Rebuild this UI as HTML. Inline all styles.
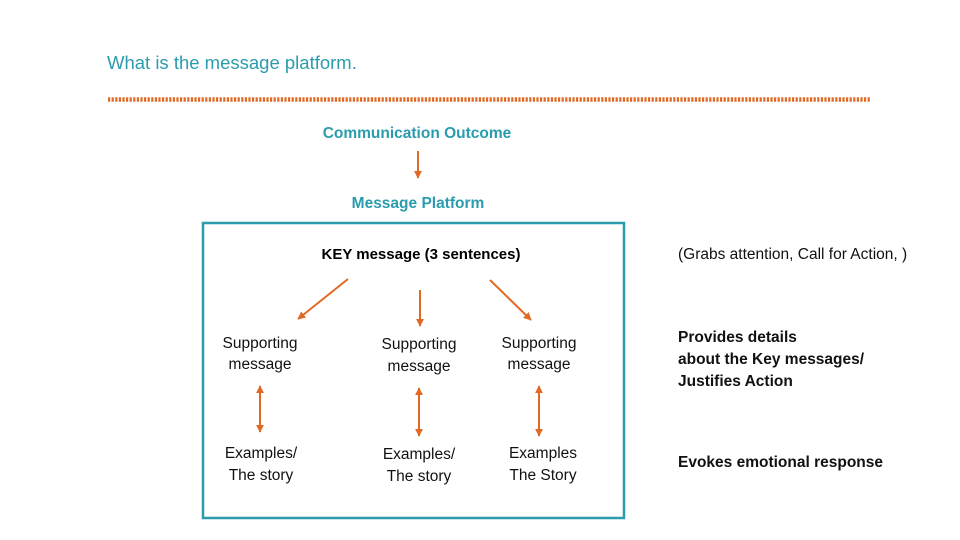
<!DOCTYPE html>
<html><head><meta charset="utf-8"><style>
html,body{margin:0;padding:0;background:#fff;}
svg{display:block;}
text{font-family:"Liberation Sans",sans-serif;}
</style></head><body>
<svg width="960" height="540" viewBox="0 0 960 540" xmlns="http://www.w3.org/2000/svg">
<defs>
<marker id="a" viewBox="0 0 10 10" refX="9" refY="5" markerWidth="4" markerHeight="4" orient="auto-start-reverse"><path d="M0,0L10,5L0,10z" fill="#e06a25"/></marker>
</defs>
<text x="107" y="69" font-size="18.5" fill="#2a9cad">What is the message platform.</text>
<line x1="108" y1="99.5" x2="871" y2="99.5" stroke="#e06a25" stroke-width="4.5" stroke-dasharray="2.2,1.4"/>
<text x="417" y="138" font-size="15.5" font-weight="bold" fill="#2a9cad" text-anchor="middle">Communication Outcome</text>
<line x1="418" y1="151" x2="418" y2="178" stroke="#e06a25" stroke-width="2" marker-end="url(#a)"/>
<text x="418" y="208" font-size="15.5" font-weight="bold" fill="#2a9cad" text-anchor="middle">Message Platform</text>
<rect x="203" y="223" width="421" height="295" fill="none" stroke="#2a9cad" stroke-width="2.5"/>
<text x="421" y="259" font-size="15" fill="#000" text-anchor="middle" font-weight="bold">KEY message (3 sentences)</text>
<text x="678" y="259" font-size="15.5" fill="#111">(Grabs attention, Call for Action, )</text>
<line x1="348" y1="279" x2="298" y2="319" stroke="#e06a25" stroke-width="2" marker-end="url(#a)"/>
<line x1="420" y1="290" x2="420" y2="326" stroke="#e06a25" stroke-width="2" marker-end="url(#a)"/>
<line x1="490" y1="280" x2="531" y2="320" stroke="#e06a25" stroke-width="2" marker-end="url(#a)"/>
<g font-size="15.5" fill="#111" text-anchor="middle">
<text x="260" y="348">Supporting</text><text x="260" y="369">message</text>
<text x="419" y="349">Supporting</text><text x="419" y="371">message</text>
<text x="539" y="348">Supporting</text><text x="539" y="369">message</text>
<text x="261" y="458">Examples/</text><text x="261" y="480">The story</text>
<text x="419" y="459">Examples/</text><text x="419" y="481">The story</text>
<text x="543" y="458">Examples</text><text x="543" y="480">The Story</text>
</g>
<line x1="260" y1="386" x2="260" y2="432" stroke="#e06a25" stroke-width="2" marker-start="url(#a)" marker-end="url(#a)"/>
<line x1="419" y1="388" x2="419" y2="436" stroke="#e06a25" stroke-width="2" marker-start="url(#a)" marker-end="url(#a)"/>
<line x1="539" y1="386" x2="539" y2="436" stroke="#e06a25" stroke-width="2" marker-start="url(#a)" marker-end="url(#a)"/>
<g font-size="15.5" font-weight="bold" fill="#111">
<text x="678" y="342">Provides details</text>
<text x="678" y="364">about the Key messages/</text>
<text x="678" y="386">Justifies Action</text>
<text x="678" y="467">Evokes emotional response</text>
</g>
</svg>
</body></html>
